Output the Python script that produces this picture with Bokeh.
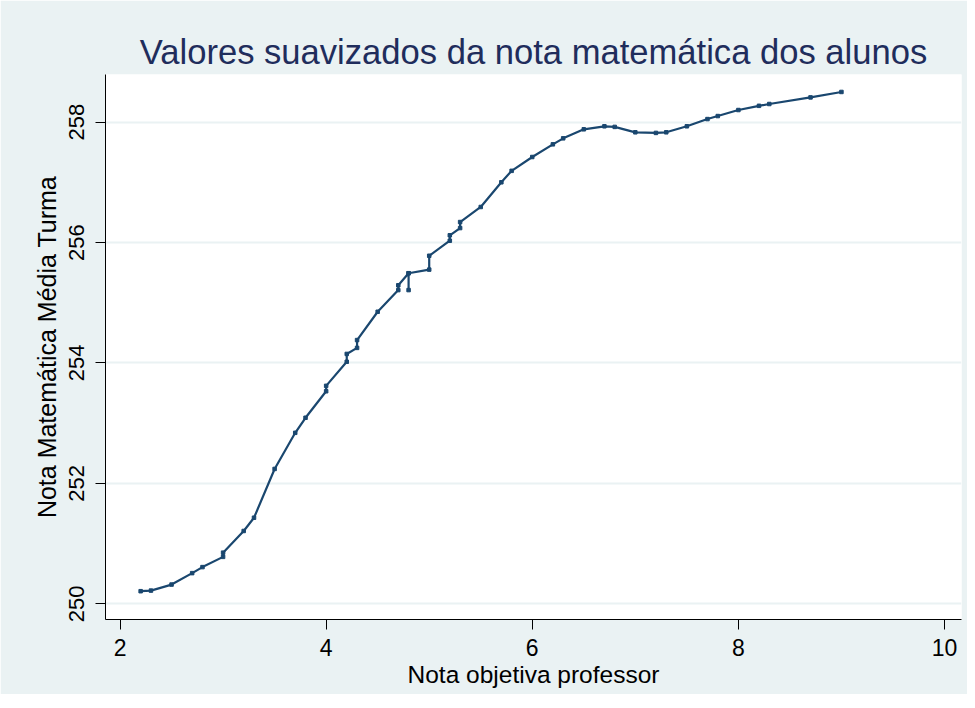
from bokeh.plotting import figure
from bokeh.models import Range1d, FixedTicker, ColumnDataSource
from bokeh.embed import file_html
from bokeh.resources import INLINE

# Data
nota_professor = [2.2, 2.3, 2.5, 2.7, 2.8, 3.0, 3.0, 3.2, 3.3, 3.5, 3.7, 3.8,
                  4.0, 4.0, 4.2, 4.2, 4.3, 4.3, 4.5, 4.7, 4.7, 4.8, 4.8, 4.8,
                  5.0, 5.0, 5.2, 5.2, 5.3, 5.3, 5.5, 5.7, 5.8, 6.0, 6.2, 6.3,
                  6.5, 6.7, 6.8, 7.0, 7.2, 7.3, 7.5, 7.7, 7.8, 8.0, 8.2, 8.3,
                  8.7, 9.0]
nota_turma = [250.21, 250.22, 250.32, 250.51, 250.61, 250.78, 250.85, 251.21,
              251.43, 252.24, 252.84, 253.09, 253.53, 253.62, 254.02, 254.15,
              254.25, 254.38, 254.85, 255.21, 255.29, 255.49, 255.21, 255.49,
              255.55, 255.78, 256.03, 256.12, 256.24, 256.34, 256.59, 257.00,
              257.19, 257.42, 257.63, 257.73, 257.88, 257.93, 257.92, 257.83,
              257.82, 257.83, 257.93, 258.05, 258.10, 258.20, 258.27, 258.30,
              258.41, 258.50]
x_ticks = [2, 4, 6, 8, 10]
y_ticks = [250, 252, 254, 256, 258]

title_text = "Valores suavizados da nota matemática dos alunos"
x_label = "Nota objetiva professor"
y_label = "Nota Matemática Média Turma"

BG = "#EAF2F3"
NAVY = "#1A476F"
FONT = "Liberation Sans"

src = ColumnDataSource(dict(x=nota_professor, y=nota_turma))

p = figure(width=967, height=694, output_backend="svg", toolbar_location=None,
           x_range=Range1d(1.859, 10.165), y_range=Range1d(249.74, 258.79),
           min_border_left=105, min_border_right=6, min_border_top=74,
           min_border_bottom=75)

p.background_fill_color = "white"
p.border_fill_color = BG
p.outline_line_color = None

p.title.text = title_text
p.title.text_font = FONT
p.title.text_font_size = "34.6px"
p.title.text_font_style = "normal"
p.title.text_color = "#1F2D5C"
p.title.align = "center"
p.title.standoff = 7

p.line("x", "y", source=src, line_color=NAVY, line_width=2.2)
p.scatter("x", "y", source=src, marker="square", size=3.5,
          fill_color=NAVY, line_color=NAVY)

p.xgrid.visible = False
p.ygrid.grid_line_color = BG
p.ygrid.grid_line_width = 2

p.xaxis.ticker = FixedTicker(ticks=x_ticks)
p.yaxis.ticker = FixedTicker(ticks=y_ticks)

for ax in (p.xaxis[0], p.yaxis[0]):
    ax.axis_line_color = "#000000"
    ax.axis_line_width = 1
    ax.major_tick_line_color = "#000000"
    ax.major_tick_out = 10
    ax.major_tick_in = 0
    ax.minor_tick_line_color = None
    ax.major_label_text_font = FONT
    ax.major_label_text_color = "#000000"
    ax.axis_label_text_font = FONT
    ax.axis_label_text_font_style = "normal"
    ax.axis_label_text_color = "#000000"

p.xaxis.axis_label = x_label
p.xaxis.major_label_text_font_size = "23px"
p.xaxis.axis_label_text_font_size = "24.5px"
p.xaxis.major_label_standoff = 9
p.xaxis.axis_label_standoff = 2

p.yaxis.axis_label = y_label
p.yaxis.major_label_orientation = "vertical"
p.yaxis.major_label_text_font_size = "22px"
p.yaxis.axis_label_text_font_size = "25px"
p.yaxis.major_label_standoff = 11
p.yaxis.axis_label_standoff = 6

open("out.html", "w").write(file_html(p, INLINE))
